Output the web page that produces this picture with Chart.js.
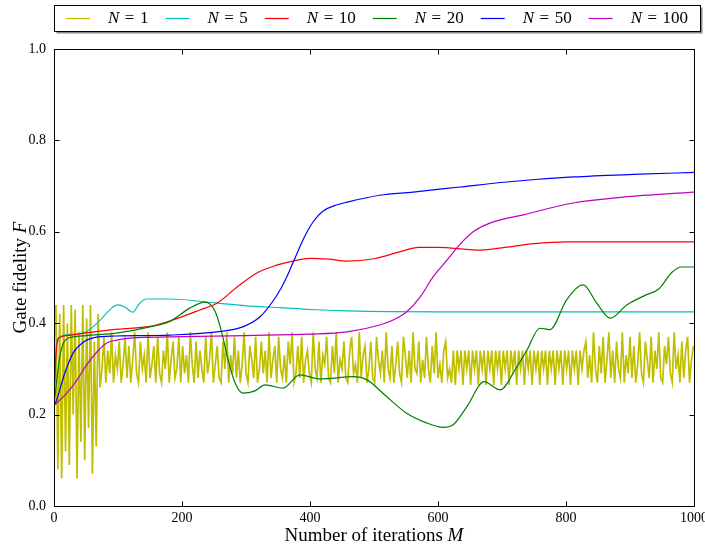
<!DOCTYPE html>
<html>
<head>
<meta charset="utf-8">
<script src="https://cdn.jsdelivr.net/npm/chart.js@4.4.1/dist/chart.umd.min.js"></script>
<style>
  html, body { margin: 0; padding: 0; background: #fff; }
</style>
</head>
<body>
<canvas id="fidelityChart" width="705" height="545"></canvas>
<script>
// tick labels
const xTicks = [0, 200, 400, 600, 800, 1000];
const yTicks = [0.0, 0.2, 0.4, 0.6, 0.8, 1.0];

const seriesLabels = ['1', '5', '10', '20', '50', '100'];
const seriesColors = ['rgb(191,191,0)', 'rgb(0,191,191)', 'rgb(255,0,0)', 'rgb(0,128,0)', 'rgb(0,0,255)', 'rgb(191,0,191)'];

// N = 1 : one value every 3 iterations (0, 3, 6, ... 999)
const stepN1 = 3;
const fidN1 = [
  // 0 .. 72
  0.35,0.44,0.08,0.42,0.06,0.44,0.12,0.40,0.09,0.44,
  0.20,0.43,0.06,0.38,0.14,0.44,0.10,0.41,0.17,0.44,
  0.07,0.36,0.13,0.42,0.26,
  // 75 .. 621
  0.30,0.37,0.27,0.34,0.29,0.38,0.27,0.33,0.30,0.36,0.27,0.31,0.37,0.28,0.35,0.27,0.32,0.38,0.29,0.27,
  0.36,0.30,0.33,0.27,0.38,0.28,0.31,0.35,0.27,0.37,0.29,0.27,0.34,0.30,0.38,0.27,0.32,0.36,0.28,0.30,
  0.37,0.27,0.35,0.29,0.33,0.27,0.38,0.31,0.27,0.36,0.28,0.34,0.30,0.27,0.37,0.29,0.32,0.38,0.27,0.31,
  0.35,0.28,0.27,0.36,0.30,0.38,0.27,0.33,0.29,0.37,0.28,0.34,0.27,0.31,0.38,0.29,0.27,0.35,0.32,0.28,
  0.37,0.27,0.30,0.36,0.29,0.34,0.27,0.38,0.28,0.32,0.35,0.27,0.37,0.30,0.28,0.33,0.27,0.36,0.31,0.38,
  0.27,0.29,0.35,0.28,0.37,0.27,0.32,0.34,0.29,0.27,0.38,0.30,0.28,0.36,0.27,0.33,0.31,0.37,0.28,0.27,
  0.35,0.29,0.38,0.27,0.32,0.30,0.36,0.28,0.27,0.34,0.37,0.29,0.31,0.27,0.38,0.28,0.33,0.35,0.27,0.30,
  0.36,0.28,0.27,0.37,0.32,0.29,0.34,0.27,0.38,0.30,0.28,0.35,0.27,0.31,0.36,0.29,0.27,0.37,0.33,0.28,
  0.34,0.27,0.38,0.30,0.29,0.36,0.27,0.32,0.28,0.37,0.30,0.27,0.35,0.29,0.38,0.28,0.31,0.27,0.34,0.36,
  0.28,0.30,0.27,
  // 624 .. 828 (regular band)
  0.34,0.265,0.34,0.30,0.34,0.265,0.34,0.30,0.34,0.265,0.34,0.30,0.34,0.265,0.34,0.30,0.34,0.265,0.34,0.30,
  0.34,0.265,0.34,0.30,0.34,0.265,0.34,0.30,0.34,0.265,0.34,0.30,0.34,0.265,0.34,0.30,0.34,0.265,0.34,0.30,
  0.34,0.265,0.34,0.30,0.34,0.265,0.34,0.30,0.34,0.265,0.34,0.30,0.34,0.265,0.34,0.30,0.34,0.265,0.34,0.30,
  0.34,0.265,0.34,0.30,0.34,0.265,0.34,0.30,0.34,
  // 831 .. 999
  0.36,0.28,0.33,0.27,0.38,0.30,0.27,0.35,0.29,0.37,0.27,0.32,0.38,0.28,0.34,0.27,0.36,0.30,0.28,0.38,
  0.27,0.33,0.29,0.37,0.28,0.35,0.27,0.31,0.38,0.29,0.27,0.36,0.32,0.28,0.37,0.27,0.34,0.30,0.38,0.28,
  0.27,0.35,0.31,0.37,0.29,0.27,0.38,0.30,0.33,0.27,0.36,0.28,0.34,0.37,0.27,0.32,0.35
];

// N = 5
const iterN5 = [0, 4, 9, 20, 46, 61, 77, 90, 100, 111, 123, 134, 145, 181, 255, 300, 353, 400, 458, 600, 800, 1000];
const fidN5  = [0.22, 0.357, 0.37, 0.375, 0.379, 0.392, 0.414, 0.433, 0.44, 0.435, 0.424, 0.444, 0.453, 0.453, 0.444, 0.438, 0.434, 0.43, 0.427, 0.425, 0.425, 0.425];

// N = 10
const iterN10 = [0, 3, 8, 20, 56, 100, 150, 181, 228, 255, 286, 317, 348, 373, 400, 430, 458, 500, 540, 570, 600, 661, 700, 750, 801, 900, 1000];
const fidN10  = [0.22, 0.33, 0.368, 0.373, 0.38, 0.387, 0.393, 0.405, 0.429, 0.444, 0.479, 0.51, 0.527, 0.536, 0.542, 0.54, 0.536, 0.541, 0.556, 0.566, 0.566, 0.56, 0.565, 0.574, 0.578, 0.578, 0.578];

// N = 20
const iterN20 = [0, 9, 17, 30, 50, 100, 150, 181, 212, 236, 252, 262, 272, 283, 295, 314, 330, 358, 384, 416, 467, 489, 520, 551, 580, 608, 623, 645, 672, 697, 723, 739, 759, 775, 801, 827, 848, 869, 895, 925, 945, 966, 981, 1000];
const fidN20  = [0.22, 0.326, 0.362, 0.37, 0.373, 0.379, 0.392, 0.404, 0.433, 0.446, 0.425, 0.38, 0.32, 0.269, 0.247, 0.252, 0.265, 0.258, 0.287, 0.278, 0.283, 0.276, 0.239, 0.203, 0.183, 0.172, 0.177, 0.217, 0.272, 0.254, 0.304, 0.341, 0.389, 0.386, 0.451, 0.484, 0.444, 0.411, 0.44, 0.462, 0.475, 0.512, 0.523, 0.523];

// N = 50
const iterN50 = [0, 4, 17, 30, 46, 61, 98, 150, 181, 255, 295, 322, 342, 355, 364, 373, 381, 389, 397, 405, 420, 440, 458, 509, 561, 634, 707, 811, 916, 1000];
const fidN50  = [0.22, 0.232, 0.291, 0.335, 0.359, 0.368, 0.372, 0.373, 0.374, 0.381, 0.392, 0.414, 0.448, 0.477, 0.502, 0.531, 0.557, 0.582, 0.604, 0.622, 0.645, 0.658, 0.665, 0.68, 0.687, 0.698, 0.709, 0.72, 0.726, 0.73];

// N = 100
const iterN100 = [0, 20, 36, 51, 67, 83, 98, 123, 181, 300, 400, 458, 509, 530, 551, 572, 592, 614, 634, 655, 681, 733, 811, 889, 1000];
const fidN100  = [0.22, 0.247, 0.276, 0.309, 0.337, 0.357, 0.363, 0.368, 0.37, 0.373, 0.376, 0.381, 0.396, 0.407, 0.425, 0.457, 0.501, 0.538, 0.572, 0.6, 0.619, 0.637, 0.663, 0.676, 0.687];

function pairUp(xs, ys) {
    return ys.map((v, i) => ({ x: xs[i], y: v }));
}

const pointsN1 = fidN1.map((v, i) => ({ x: i * stepN1, y: v }));
const allPoints = [
    pointsN1,
    pairUp(iterN5, fidN5),
    pairUp(iterN10, fidN10),
    pairUp(iterN20, fidN20),
    pairUp(iterN50, fidN50),
    pairUp(iterN100, fidN100)
];

const datasets = allPoints.map((pts, i) => ({
    label: 'N = ' + seriesLabels[i],
    data: pts,
    borderColor: seriesColors[i],
    borderWidth: i === 0 ? 1.7 : 1.2,
    pointRadius: 0,
    fill: false,
    tension: i === 0 ? 0 : 0.4,
    cubicInterpolationMode: i === 0 ? 'default' : 'monotone',
    order: 5 - i
}));

const serif = "'Liberation Serif', 'DejaVu Serif', serif";

// frame, inward ticks, legend box and axis titles
const decorations = {
    id: 'decorations',
    afterDraw(chart) {
        const { ctx, chartArea: a, scales: { x, y } } = chart;
        ctx.save();
        ctx.strokeStyle = '#000';
        ctx.lineWidth = 1;
        const L = Math.round(a.left) + 0.5, R = Math.round(a.right) + 0.5;
        const T = Math.round(a.top) + 0.5, B = Math.round(a.bottom) + 0.5;
        ctx.strokeRect(L, T, R - L, B - T);

        ctx.beginPath();
        xTicks.forEach(v => {
            const px = Math.round(x.getPixelForValue(v)) + 0.5;
            ctx.moveTo(px, B); ctx.lineTo(px, B - 5);
            ctx.moveTo(px, T); ctx.lineTo(px, T + 5);
        });
        yTicks.forEach(v => {
            const py = Math.round(y.getPixelForValue(v)) + 0.5;
            ctx.moveTo(L, py); ctx.lineTo(L + 5, py);
            ctx.moveTo(R, py); ctx.lineTo(R - 5, py);
        });
        ctx.stroke();

        // legend
        const boxL = 54.5, boxT = 5.5, boxR = 700.5, boxB = 31.5;
        ctx.fillStyle = '#888';
        ctx.fillRect(boxL + 2, boxT + 2, boxR - boxL, boxB - boxT);
        ctx.fillStyle = '#fff';
        ctx.fillRect(boxL, boxT, boxR - boxL, boxB - boxT);
        ctx.strokeRect(boxL, boxT, boxR - boxL, boxB - boxT);

        const midY = 19;
        let cx = 66;
        ctx.textBaseline = 'middle';
        chart.data.datasets.forEach((ds, i) => {
            ctx.strokeStyle = ds.borderColor;
            ctx.lineWidth = 1.2;
            ctx.beginPath();
            ctx.moveTo(cx, midY - 0.5); ctx.lineTo(cx + 24, midY - 0.5);
            ctx.stroke();
            cx += 24 + 18;
            ctx.fillStyle = '#000';
            ctx.font = 'italic 17px ' + serif;
            ctx.fillText('N', cx, midY);
            cx += ctx.measureText('N').width + 5.5;
            ctx.font = '17px ' + serif;
            ctx.fillText('=', cx, midY);
            cx += ctx.measureText('=').width + 5.5;
            ctx.fillText(seriesLabels[i], cx, midY);
            cx += ctx.measureText(seriesLabels[i]).width + 17;
        });

        // axis titles
        const fs = 19;
        ctx.fillStyle = '#000';
        ctx.textBaseline = 'alphabetic';
        const xa = 'Number of iterations ';
        ctx.font = 'italic ' + fs + 'px ' + serif;
        const wm = ctx.measureText('M').width;
        ctx.font = fs + 'px ' + serif;
        const wx = ctx.measureText(xa).width;
        const sx = (a.left + a.right) / 2 - (wx + wm) / 2;
        ctx.fillText(xa, sx, 541);
        ctx.font = 'italic ' + fs + 'px ' + serif;
        ctx.fillText('M', sx + wx, 541);

        ctx.translate(26, (a.top + a.bottom) / 2);
        ctx.rotate(-Math.PI / 2);
        ctx.font = fs + 'px ' + serif;
        const ya = 'Gate fidelity ';
        const wy = ctx.measureText(ya).width;
        ctx.font = 'italic ' + fs + 'px ' + serif;
        const wf = ctx.measureText('F').width;
        const sy = -(wy + wf) / 2;
        ctx.font = fs + 'px ' + serif;
        ctx.fillText(ya, sy, 0);
        ctx.font = 'italic ' + fs + 'px ' + serif;
        ctx.fillText('F', sy + wy, 0);
        ctx.restore();
    }
};

const ctx = document.getElementById('fidelityChart').getContext('2d');
const fidelityChart = new Chart(ctx, {
    type: 'line',
    data: { datasets: datasets },
    options: {
        responsive: false,
        animation: false,
        layout: { padding: { top: 49, right: 11, left: 0, bottom: 0 } },
        plugins: {
            legend: { display: false },
            tooltip: { enabled: false }
        },
        scales: {
            x: {
                type: 'linear',
                min: 0,
                max: 1000,
                afterBuildTicks: s => { s.ticks = xTicks.map(v => ({ value: v })); },
                ticks: { color: '#000', font: { family: serif, size: 14 }, padding: 4, maxRotation: 0, callback: v => String(v) },
                grid: { display: false, drawTicks: false },
                border: { display: false },
                afterFit: s => { s.height = 39; s.paddingLeft = 0; s.paddingRight = 0; }
            },
            y: {
                min: 0,
                max: 1,
                afterBuildTicks: s => { s.ticks = yTicks.map(v => ({ value: v })); },
                ticks: { color: '#000', font: { family: serif, size: 14 }, padding: 8, callback: v => v.toFixed(1) },
                grid: { display: false, drawTicks: false },
                border: { display: false },
                afterFit: s => { s.width = 54; s.paddingTop = 0; s.paddingBottom = 0; }
            }
        }
    },
    plugins: [decorations]
});
</script>
</body>
</html>
